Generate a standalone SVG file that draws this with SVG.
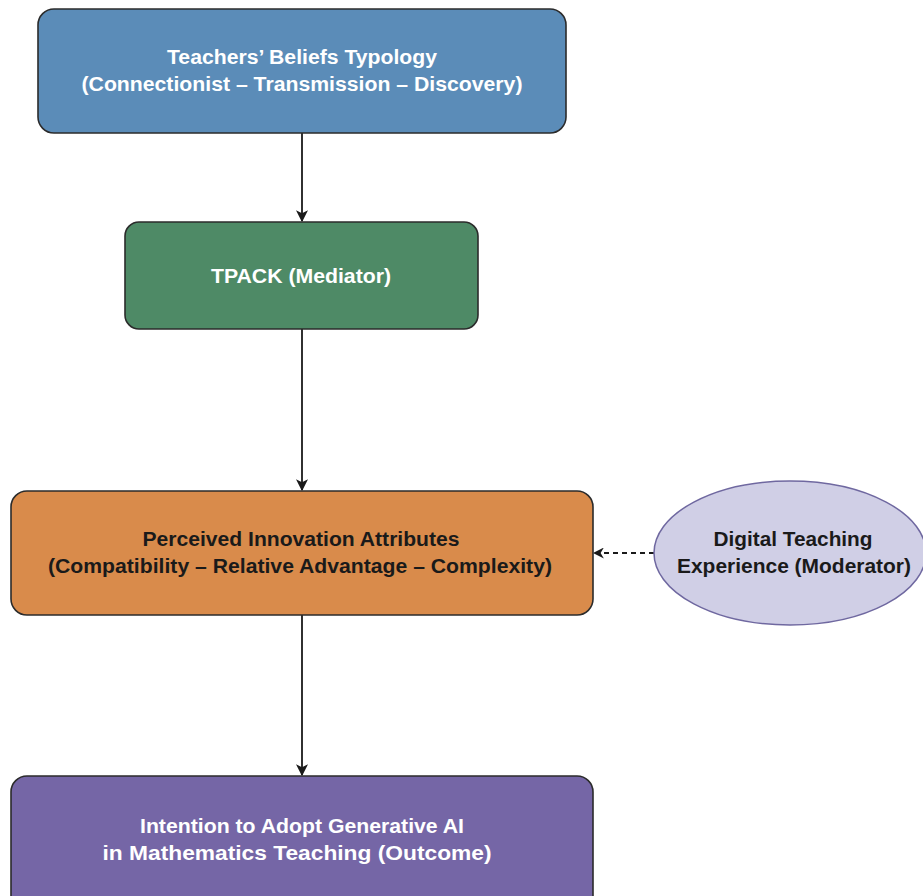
<svg xmlns="http://www.w3.org/2000/svg" width="923" height="896" viewBox="0 0 923 896">
  <style>
    .box { stroke: #2b2b2b; stroke-width: 1.6; }
    .lbl { font-family: "Liberation Sans", Arial, sans-serif; font-weight: bold; font-size: 20px; text-anchor: middle; }
    .light { fill: #ffffff; }
    .dark { fill: #1a1a1a; }
    .edge { stroke: #1a1a1a; stroke-width: 1.8; fill: none; }
    .dashed { stroke-dasharray: 5 4; }
  </style>
  <defs>
    <marker id="tri" viewBox="0 0 10 10" refX="9" refY="5" markerWidth="12" markerHeight="12" markerUnits="userSpaceOnUse" orient="auto">
      <path d="M0,0 L10,5 L0,10 L2.5,5 z" fill="#1a1a1a"/>
    </marker>
    <marker id="chev" viewBox="0 0 10 10" refX="9" refY="5" markerWidth="11" markerHeight="11" markerUnits="userSpaceOnUse" orient="auto">
      <path d="M0,0 L10,5 L0,10 L3,5 z" fill="#1a1a1a"/>
    </marker>
  </defs>

  <rect width="923" height="896" fill="#ffffff"/>

  <g id="connectors">
    <line class="edge" x1="302" y1="133" x2="302" y2="221" marker-end="url(#tri)"/>
    <line class="edge" x1="302" y1="329" x2="302" y2="490" marker-end="url(#tri)"/>
    <line class="edge" x1="302" y1="615" x2="302" y2="775" marker-end="url(#tri)"/>
    <line class="edge dashed" x1="654" y1="553" x2="594" y2="553" marker-end="url(#chev)"/>
  </g>

  <g id="beliefs">
    <rect class="box" x="38" y="9" width="528" height="124" rx="16" fill="#5b8cb8"/>
    <text class="lbl light" x="302" y="64" textLength="270" lengthAdjust="spacingAndGlyphs">Teachers’ Beliefs Typology</text>
    <text class="lbl light" x="302" y="91" textLength="441" lengthAdjust="spacingAndGlyphs">(Connectionist – Transmission – Discovery)</text>
  </g>

  <g id="tpack">
    <rect class="box" x="125" y="222" width="353" height="107" rx="14" fill="#4e8a66"/>
    <text class="lbl light" x="301" y="283" textLength="180" lengthAdjust="spacingAndGlyphs">TPACK (Mediator)</text>
  </g>

  <g id="attributes">
    <rect class="box" x="11" y="491" width="582" height="124" rx="16" fill="#d98b4b"/>
    <text class="lbl dark" x="301" y="546" textLength="317" lengthAdjust="spacingAndGlyphs">Perceived Innovation Attributes</text>
    <text class="lbl dark" x="300" y="573" textLength="504" lengthAdjust="spacingAndGlyphs">(Compatibility – Relative Advantage – Complexity)</text>
  </g>

  <g id="experience">
    <ellipse cx="790" cy="553" rx="136" ry="72" fill="#d0cfe6" stroke="#6f68a0" stroke-width="1.5"/>
    <text class="lbl dark" x="793" y="546" textLength="159" lengthAdjust="spacingAndGlyphs">Digital Teaching</text>
    <text class="lbl dark" x="794" y="573" textLength="234" lengthAdjust="spacingAndGlyphs">Experience (Moderator)</text>
  </g>

  <g id="intention">
    <rect class="box" x="11" y="776" width="582" height="140" rx="16" fill="#7566a6"/>
    <text class="lbl light" x="302" y="833" textLength="324" lengthAdjust="spacingAndGlyphs">Intention to Adopt Generative AI</text>
    <text class="lbl light" x="297" y="860" textLength="389" lengthAdjust="spacingAndGlyphs">in Mathematics Teaching (Outcome)</text>
  </g>
</svg>
